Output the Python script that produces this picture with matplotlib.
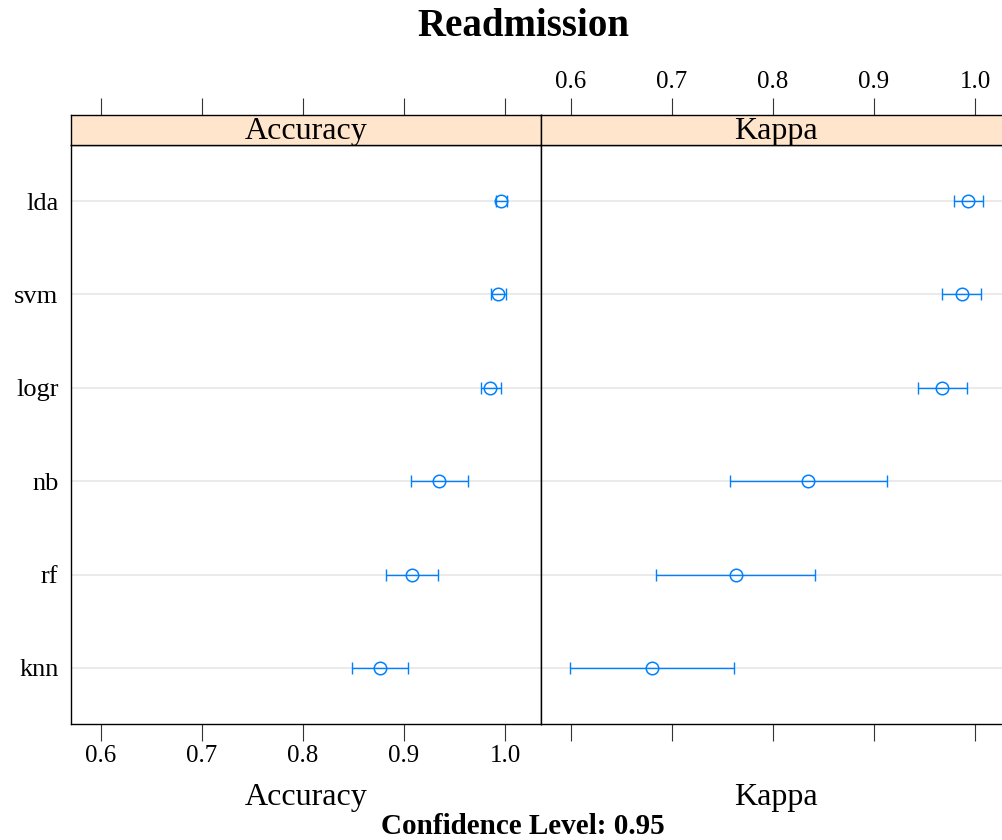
import matplotlib
matplotlib.use("Agg")
import matplotlib.pyplot as plt
import numpy as np

plt.rcParams['font.family'] = ['Liberation Serif', 'DejaVu Serif']

models = ['lda', 'svm', 'logr', 'nb', 'rf', 'knn']

acc_mean = [0.996, 0.993, 0.985, 0.935, 0.908, 0.876]
acc_low = [0.991, 0.986, 0.976, 0.907, 0.882, 0.848]
acc_high = [1.002, 1.001, 0.996, 0.963, 0.934, 0.904]

kap_mean = [0.993, 0.987, 0.967, 0.835, 0.763, 0.680]
kap_low = [0.979, 0.967, 0.944, 0.757, 0.684, 0.599]
kap_high = [1.008, 1.006, 0.992, 0.913, 0.842, 0.761]

panels = [('Accuracy', acc_mean, acc_low, acc_high),
          ('Kappa', kap_mean, kap_low, kap_high)]

ticks = [0.6, 0.7, 0.8, 0.9, 1.0]
xlim = (0.5703, 1.0356)
blue = '#0080ff'

W, H = 1003, 840
fig = plt.figure(figsize=(W / 100, H / 100), dpi=100)

pan_x = [71, 541]
pan_w = 470
top, bot = 145, 724
strip_h = 30

ypos = np.arange(1, len(models) + 1)

for i, (name, mean, low, high) in enumerate(panels):
    x0 = pan_x[i]
    ax = fig.add_axes([x0 / W, (H - bot) / H, pan_w / W, (bot - top) / H])
    sx = fig.add_axes([x0 / W, (H - top) / H, pan_w / W, strip_h / H])

    mean = np.array(mean)
    low = np.array(low)
    high = np.array(high)
    for y in ypos:
        ax.axhline(y, color='#e6e6e6', lw=1.2, zorder=1)
    ax.errorbar(mean, ypos, xerr=[mean - low, high - mean], fmt='none',
                ecolor=blue, elinewidth=1.0, capsize=4, capthick=1.0, zorder=2)
    ax.plot(mean, ypos, 'o', mfc='none', mec=blue, ms=9, mew=1.1, zorder=3)

    ax.set_xlim(xlim)
    ax.set_ylim(6.6, 0.4)
    ax.set_xticks(ticks)
    ax.tick_params(axis='x', direction='out', length=12, width=0.8,
                   labelsize=18, pad=3, color='#333333')
    if i == 0:
        ax.set_xticklabels([f'{t:.1f}' for t in ticks])
        ax.set_yticks(ypos)
        ax.set_yticklabels(models)
        ax.tick_params(axis='y', length=0, labelsize=19, pad=9)
    else:
        ax.set_xticklabels([])
        ax.set_yticks([])
    for s in ax.spines.values():
        s.set_linewidth(1.0)
    fig.text((x0 + pan_w / 2) / W, 1 - 797 / H, name, ha='center',
             va='center', fontsize=23)

    sx.set_facecolor('#ffe5cc')
    sx.set_xlim(xlim)
    sx.set_ylim(0, 1)
    sx.set_yticks([])
    sx.set_xticks(ticks)
    sx.xaxis.tick_top()
    sx.tick_params(axis='x', direction='out', length=12, width=0.8,
                   labelsize=18, pad=4, color='#333333')
    if i == 1:
        sx.set_xticklabels([f'{t:.1f}' for t in ticks])
    else:
        sx.set_xticklabels([])
    for s in sx.spines.values():
        s.set_linewidth(1.0)
    sx.text(0.5, 0.45, name, transform=sx.transAxes, ha='center', va='center',
            fontsize=23)

fig.text(523 / W, 1 - 27 / H, 'Readmission', ha='center', va='center',
         fontsize=28, fontweight='bold')
fig.text(523 / W, 1 - 826 / H, 'Confidence Level: 0.95', ha='center',
         va='center', fontsize=21, fontweight='bold')

fig.savefig('out.png', dpi=100)
